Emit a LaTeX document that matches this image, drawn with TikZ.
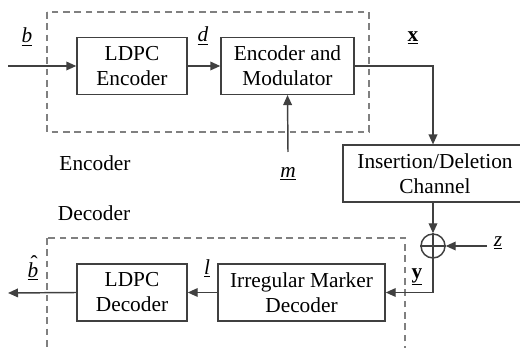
\documentclass[tikz,border=0pt]{standalone}
\usepackage{fontspec}
\setmainfont{Liberation Serif}
\usetikzlibrary{arrows.meta}
\definecolor{linegray}{HTML}{404040}
\tikzset{
  blk/.style={draw=linegray, line width=1.1pt, minimum height=42.5pt, align=center,
    inner sep=0pt, font=\fontsize{16}{18.75}\selectfont},
  sig/.style={draw=linegray, line width=1.1pt, -{Triangle[length=7.5pt,width=6.5pt]}},
  wire/.style={draw=linegray, line width=1.1pt},
  grp/.style={draw=gray, dash pattern=on 5pt off 3.5pt, line width=0.8pt},
  lbl/.style={font=\fontsize{16}{18}\selectfont, inner sep=1pt}
}
% hatted, underlined symbol
\newcommand{\hatbar}[1]{\rlap{\hspace{0.14em}\raisebox{0.3em}{\symbol{"02C6}}}\underline{\textit{#1}}}

\begin{document}
\begin{tikzpicture}[x=0.75pt, y=-0.75pt]
			%%%%% START %%%%%
			\useasboundingbox (0,0) rectangle (520,348);

			% encoder / decoder groups
			\draw[grp] (47,12) rectangle (369,132);
			\draw[grp] (47,238) rectangle (405,360);
			\node[lbl] (enclbl) at (95,163) {Encoder};
			\node[lbl] (declbl) at (94,213) {Decoder};

			% blocks
			\node[blk, minimum width=82.5pt] (ldpcenc) at (132,66) {LDPC\\Encoder};
			\node[blk, minimum width=99.75pt] (encmod) at (287.5,66) {Encoder and\\Modulator};
			\node[blk, minimum width=138pt] (channel) at (435,173.5) {Insertion/Deletion\\Channel};
			\node[blk, minimum width=125.25pt] (imdec) at (301.5,292.5) {Irregular Marker\\Decoder};
			\node[blk, minimum width=82.5pt] (ldpcdec) at (132,292.5) {LDPC\\Decoder};

			% adder
			\node[circle, draw=linegray, line width=1.1pt, minimum size=18pt, inner sep=0pt] (oplus) at (433,246) {};
			\draw[wire] (oplus.north) -- (oplus.south);
			\draw[wire] (oplus.west) -- (oplus.east);

			% free ends
			\coordinate (bin) at (8,66);
			\coordinate (msrc) at (288,152);
			\coordinate (zsrc) at (487,246);
			\coordinate (bout) at (8,293);

			% signals
			\draw[sig] (bin) -- (ldpcenc.west);
			\draw[sig] (ldpcenc.east) -- (encmod.west);
			\draw[sig] (msrc) -- (encmod.south);
			\draw[sig] (encmod.east) -| (oplus.north |- channel.north);
			\draw[sig] (oplus.north |- channel.south) -- (oplus.north);
			\draw[sig] (zsrc) -- (oplus.east);
			\draw[sig] (oplus.south) |- (imdec.east);
			\draw[sig] (imdec.west) -- (ldpcdec.east);
			\draw[sig] (ldpcdec.west) -- (bout);

			% signal labels
			\node[lbl] (blbl) at (27,37) {\underline{\textit{b}}};
			\node[lbl] (dlbl) at (203,36) {\underline{\textit{d}}};
			\node[lbl] (xlbl) at (413,38) {\underline{\textbf{x}}};
			\node[lbl] (mlbl) at (288,174) {\underline{\textit{m}}};
			\node[lbl] (zlbl) at (498,243) {\underline{\textit{z}}};
			\node[lbl] (ylbl) at (417,277) {\underline{\textbf{y}}};
			\node[lbl] (llbl) at (207,268) {\underline{\textit{l}}};
			\node[lbl] (bhlbl) at (33,268) {\hatbar{b}};

			%%%%% END %%%%%
\end{tikzpicture}
\end{document}
